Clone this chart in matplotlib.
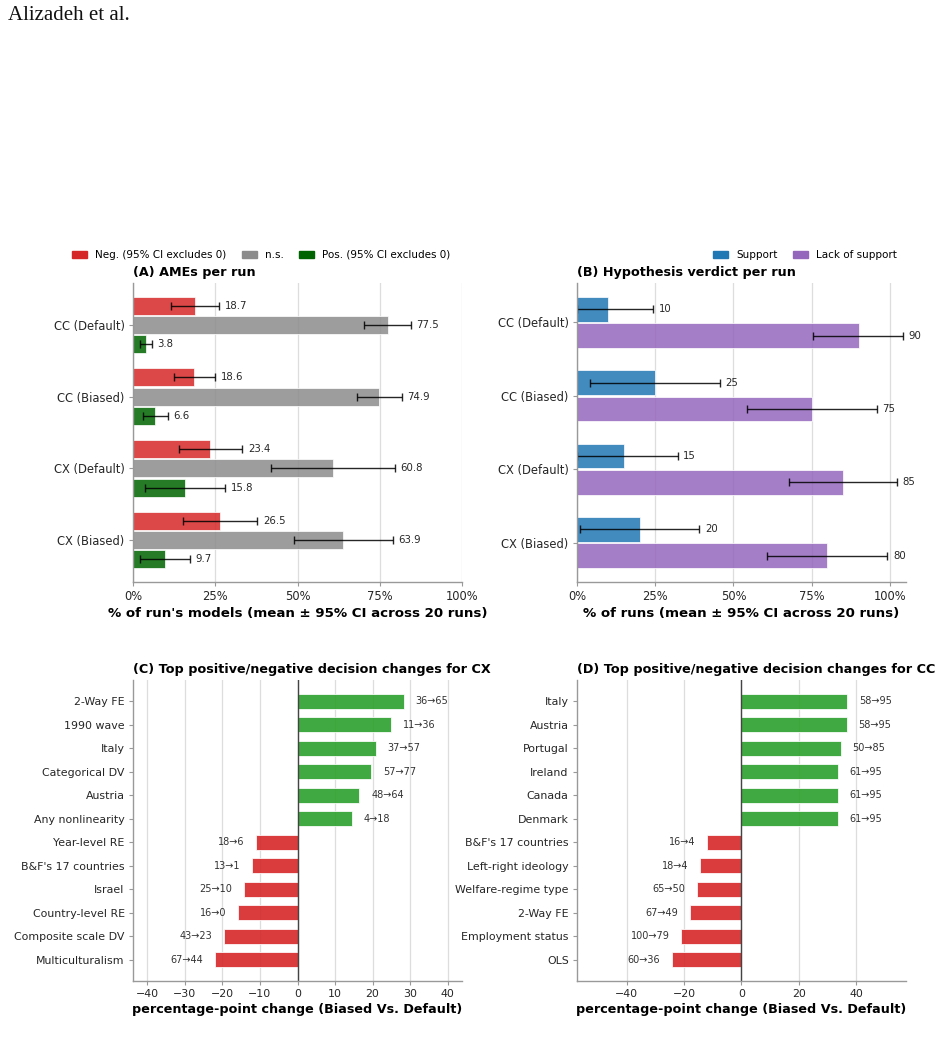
import matplotlib
matplotlib.use("Agg")
import matplotlib.pyplot as plt
from matplotlib.patches import Patch
import numpy as np

plt.rcParams['font.family'] = ['DejaVu Sans']

# ---------------- Data ----------------
runs = ["CC (Default)", "CC (Biased)", "CX (Default)", "CX (Biased)"]

# Panel A: AMEs per run (% of run's models)
neg_mean = [18.7, 18.6, 23.4, 26.5]
neg_lo = [11.5, 12.5, 13.9, 15.3]
neg_hi = [26.1, 24.9, 33.2, 37.8]
ns_mean = [77.5, 74.9, 60.8, 63.9]
ns_lo = [70.2, 68.2, 42.0, 48.8]
ns_hi = [84.5, 81.7, 79.6, 79.0]
pos_mean = [3.8, 6.6, 15.8, 9.7]
pos_lo = [2.1, 2.9, 3.6, 2.2]
pos_hi = [5.8, 10.5, 28.0, 17.3]

# Panel B: hypothesis verdict per run (% of runs)
sup_mean = [10, 25, 15, 20]
sup_lo = [0.0, 4.2, 0.0, 0.8]
sup_hi = [24.4, 45.7, 32.2, 39.1]
lack_mean = [90, 75, 85, 80]
lack_lo = [75.5, 54.2, 67.8, 60.8]
lack_hi = [104.3, 95.8, 102.2, 99.2]

# Panel C: decision changes for CX
cx_labels = ["2-Way FE", "1990 wave", "Italy", "Categorical DV", "Austria",
             "Any nonlinearity", "Year-level RE", "B&F's 17 countries", "Israel",
             "Country-level RE", "Composite scale DV", "Multiculturalism"]
cx_change = [28.3, 24.9, 20.8, 19.7, 16.5, 14.6,
             -11.0, -12.1, -14.3, -15.9, -19.5, -22.0]
cx_text = ["36→65", "11→36", "37→57", "57→77", "48→64", "4→18",
           "18→6", "13→1", "25→10", "16→0", "43→23", "67→44"]

# Panel D: decision changes for CC
cc_labels = ["Italy", "Austria", "Portugal", "Ireland", "Canada", "Denmark",
             "B&F's 17 countries", "Left-right ideology", "Welfare-regime type",
             "2-Way FE", "Employment status", "OLS"]
cc_change = [37.0, 36.8, 34.7, 33.6, 33.6, 33.6,
             -11.9, -14.4, -15.5, -17.9, -21.0, -24.1]
cc_text = ["58→95", "58→95", "50→85", "61→95", "61→95", "61→95",
           "16→4", "18→4", "65→50", "67→49", "100→79", "60→36"]

# ---------------- Style ----------------
C_NEG = "#d62728"
C_NS = "#8c8c8c"
C_POS = "#006400"
C_SUP = "#1f77b4"
C_LACK = "#9467bd"
C_UP = "#2ca02c"
C_DOWN = "#d62728"
SPINE = "#999999"
TXT = "#262626"
TITLE_FS = 9.2

fig = plt.figure(figsize=(9.4, 10.4), dpi=100)
W, H = 940.0, 1040.0


def ax_at(l, t, r, b):
    return fig.add_axes([l / W, 1 - b / H, (r - l) / W, (b - t) / H])


def style(ax, fs):
    for s in ["top", "right"]:
        ax.spines[s].set_visible(False)
    for s in ["left", "bottom"]:
        ax.spines[s].set_color(SPINE)
        ax.spines[s].set_linewidth(1.0)
    ax.tick_params(axis="both", colors=SPINE, labelcolor=TXT, labelsize=fs,
                   length=3.2, width=0.8, pad=2.8)
    ax.grid(axis="x", color="#dddddd", linewidth=0.9)
    ax.set_axisbelow(True)


err_kw = dict(ecolor="black", elinewidth=1.0, capsize=3, capthick=1.0, alpha=0.85)

# ---------------- Panel A ----------------
axA = ax_at(133, 283, 462, 582)
style(axA, 8.3)
y = np.arange(len(runs))
off, h = 0.27, 0.25
for vals, lo, hi, col, dy in [(neg_mean, neg_lo, neg_hi, C_NEG, -off),
                              (ns_mean, ns_lo, ns_hi, C_NS, 0.0),
                              (pos_mean, pos_lo, pos_hi, C_POS, off)]:
    vals = np.array(vals); lo = np.array(lo); hi = np.array(hi)
    axA.barh(y + dy, vals, height=h, color=col, alpha=0.85, edgecolor="white", linewidth=0.6)
    axA.errorbar(vals, y + dy, xerr=[vals - lo, hi - vals], fmt="none", **err_kw)
    for v, yy, hh in zip(vals, y + dy, hi):
        axA.annotate(f"{v:.1f}", (hh, yy), xytext=(4, 0), textcoords="offset points",
                     va="center", ha="left", fontsize=7.3, color=TXT)
axA.set_yticks(y)
axA.set_yticklabels(runs)
axA.invert_yaxis()
axA.set_xlim(0, 100)
axA.set_xticks([0, 25, 50, 75, 100])
axA.set_xticklabels(["0%", "25%", "50%", "75%", "100%"])
axA.set_xlabel("% of run's models (mean ± 95% CI across 20 runs)", fontsize=9.6,
               fontweight="bold", labelpad=3)
axA.set_title("(A) AMEs per run", loc="left", fontsize=TITLE_FS, fontweight="bold", pad=5)
handlesA = [Patch(color=C_NEG, label="Neg. (95% CI excludes 0)"),
            Patch(color=C_NS, label="n.s."),
            Patch(color=C_POS, label="Pos. (95% CI excludes 0)")]
axA.legend(handles=handlesA, loc="center left", bbox_to_anchor=(-0.185, 1.094), ncol=3,
           frameon=False, fontsize=7.5, handlelength=1.4, handleheight=0.65,
           borderpad=0, borderaxespad=0, columnspacing=1.5, handletextpad=0.8)

# ---------------- Panel B ----------------
axB = ax_at(577, 283, 905.5, 582)
style(axB, 8.3)
offB, hB = 0.18, 0.34
for vals, lo, hi, col, dy in [(sup_mean, sup_lo, sup_hi, C_SUP, -offB),
                              (lack_mean, lack_lo, lack_hi, C_LACK, offB)]:
    vals = np.array(vals, dtype=float); lo = np.array(lo); hi = np.array(hi)
    axB.barh(y + dy, vals, height=hB, color=col, alpha=0.85, edgecolor="white", linewidth=0.6)
    axB.errorbar(vals, y + dy, xerr=[vals - lo, hi - vals], fmt="none", **err_kw)
    for v, yy, hh in zip(vals, y + dy, hi):
        axB.annotate(f"{v:.0f}", (hh, yy), xytext=(4, 0), textcoords="offset points",
                     va="center", ha="left", fontsize=7.3, color=TXT)
axB.set_yticks(y)
axB.set_yticklabels(runs)
axB.invert_yaxis()
axB.set_xlim(0, 105)
axB.set_xticks([0, 25, 50, 75, 100])
axB.set_xticklabels(["0%", "25%", "50%", "75%", "100%"])
axB.set_xlabel("% of runs (mean ± 95% CI across 20 runs)", fontsize=9.6,
               fontweight="bold", labelpad=3)
axB.set_title("(B) Hypothesis verdict per run", loc="left", fontsize=TITLE_FS,
              fontweight="bold", pad=5)
handlesB = [Patch(color=C_SUP, label="Support"), Patch(color=C_LACK, label="Lack of support")]
axB.legend(handles=handlesB, loc="center right", bbox_to_anchor=(0.974, 1.094), ncol=2,
           frameon=False, fontsize=7.5, handlelength=1.4, handleheight=0.65,
           borderpad=0, borderaxespad=0, columnspacing=1.5, handletextpad=0.8)


# ---------------- Panels C & D ----------------
def change_panel(ax, labels, change, texts, title, ticks):
    style(ax, 7.9)
    change = np.array(change)
    yy = np.arange(len(labels))
    cols = [C_UP if c > 0 else C_DOWN for c in change]
    ax.barh(yy, change, height=0.65, color=cols, alpha=0.9, edgecolor="white", linewidth=0.6)
    ax.axvline(0, color="#444444", linewidth=1.0)
    for c, yv, t in zip(change, yy, texts):
        ax.annotate(t, (c, yv), xytext=(8.5 if c > 0 else -8.5, 0), textcoords="offset points",
                    va="center", ha="left" if c > 0 else "right", fontsize=7, color="#333333")
    ax.set_yticks(yy)
    ax.set_yticklabels(labels)
    ax.invert_yaxis()
    m = np.abs(change).max() * 1.55
    ax.set_xlim(-m, m)
    ax.set_xticks(ticks)
    ax.set_xlabel("percentage-point change (Biased Vs. Default)", fontsize=TITLE_FS,
                  fontweight="bold", labelpad=3)
    ax.set_title(title, loc="left", fontsize=TITLE_FS, fontweight="bold", pad=5)


axC = ax_at(133, 680, 462, 981)
change_panel(axC, cx_labels, cx_change, cx_text,
             "(C) Top positive/negative decision changes for CX",
             [-40, -30, -20, -10, 0, 10, 20, 30, 40])
axD = ax_at(577, 680, 905.7, 981)
change_panel(axD, cc_labels, cc_change, cc_text,
             "(D) Top positive/negative decision changes for CC",
             [-40, -20, 0, 20, 40])

# Page header
fig.text(8 / W, 1 - 15 / H, "Alizadeh et al.", family="Liberation Serif", fontsize=15,
         va="center", ha="left", color="#111111")

fig.savefig("out.png", dpi=100)
